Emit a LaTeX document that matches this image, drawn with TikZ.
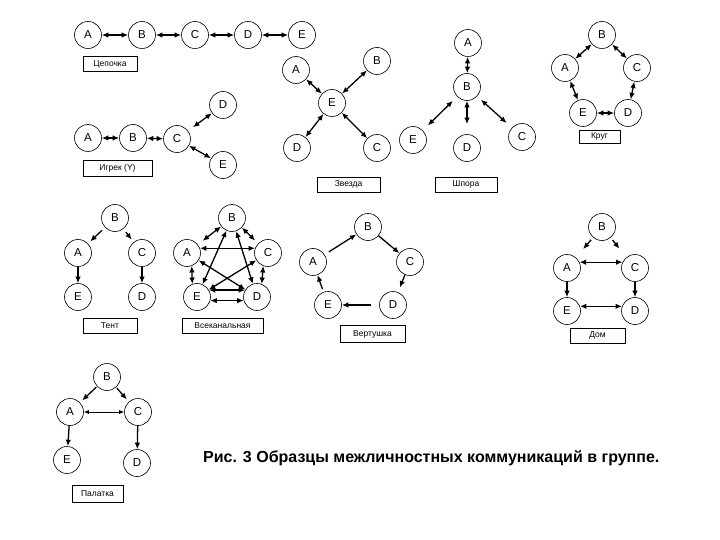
\documentclass[tikz,border=0pt]{standalone}
\usepackage{fontspec}
\setmainfont{Liberation Sans}
\usetikzlibrary{arrows.meta}
\begin{document}
\begin{tikzpicture}[x=1pt,y=-1pt,
 pn/.style={circle,draw,line width=0.6pt,minimum size=27pt,inner sep=0pt,font=\fontsize{11.5}{12}\selectfont},
 lbl/.style={draw,line width=0.6pt,minimum height=15pt,inner sep=0pt,font=\fontsize{8.5}{10}\selectfont},
 tip/.tip={Latex[length=6.5pt,width=5.5pt]},
 bi/.style={tip-tip,line width=1.3pt},
 uni/.style={-tip,line width=1.3pt},
 thinbi/.style={{Latex[length=5pt,width=4pt]}-{Latex[length=5pt,width=4pt]},line width=0.7pt},
]
\fill[white] (0,0) rectangle (720,540);
\useasboundingbox (0,0) rectangle (720,540);

% Цепочка
\node[pn] (cA) at (88,35) {A};
\node[pn] (cB) at (142,35) {B};
\node[pn] (cC) at (195,35) {C};
\node[pn] (cD) at (248,35) {D};
\node[pn] (cE) at (302,35) {E};
\node[lbl,minimum width=54pt] (cL) at (110,64) {Цепочка};
\draw[bi] (cA) -- (cB);
\draw[bi] (cB) -- (cC);
\draw[bi] (cC) -- (cD);
\draw[bi] (cD) -- (cE);

% Игрек
\node[pn] (yA) at (88,138) {A};
\node[pn] (yB) at (133,138) {B};
\node[pn] (yC) at (177,139) {C};
\node[pn] (yD) at (223,105) {D};
\node[pn] (yE) at (223,165) {E};
\node[lbl,minimum width=69pt,minimum height=16pt] (yL) at (117.5,168) {Игрек (Y)};
\draw[bi] (yA) -- (yB);
\draw[bi] (yB) -- (yC);
\draw[bi,shorten <=6pt] (yC) -- (yD);
\draw[bi] (yC) -- (yE);

% Звезда
\node[pn] (sA) at (296,70) {A};
\node[pn] (sB) at (377,61) {B};
\node[pn] (sE) at (332,103) {E};
\node[pn] (sD) at (297,148) {D};
\node[pn] (sC) at (377,148) {C};
\node[lbl,minimum width=63pt] (sL) at (348.5,184.5) {Звезда};
\draw[bi] (sA) -- (sE);
\draw[bi] (sB) -- (sE);
\draw[bi] (sD) -- (sE);
\draw[bi] (sC) -- (sE);

% Шпора
\node[pn] (pA) at (468,43) {A};
\node[pn] (pB) at (467,87) {B};
\node[pn] (pE) at (413,140) {E};
\node[pn] (pD) at (467,148) {D};
\node[pn] (pC) at (522,137) {C};
\node[lbl,minimum width=62pt] (pL) at (466,184.5) {Шпора};
\draw[bi] (pA) -- (pB);
\draw[bi,shorten <=6pt,shorten >=7pt] (pB) -- (pE);
\draw[bi,shorten >=10pt] (pB) -- (pD);
\draw[bi,shorten <=5pt,shorten >=7pt] (pB) -- (pC);

% Круг
\node[pn] (kB) at (602,35) {B};
\node[pn] (kA) at (565,68) {A};
\node[pn] (kC) at (637,68) {C};
\node[pn] (kE) at (583,113) {E};
\node[pn] (kD) at (628,113) {D};
\node[lbl,minimum width=41pt,minimum height=13pt] (kL) at (599.5,136.5) {Круг};
\draw[bi] (kB) -- (kA);
\draw[bi] (kB) -- (kC);
\draw[bi] (kA) -- (kE);
\draw[bi] (kC) -- (kD);
\draw[bi] (kE) -- (kD);

% Тент
\node[pn] (tB) at (115,218) {B};
\node[pn] (tA) at (78,253) {A};
\node[pn] (tC) at (142,253) {C};
\node[pn] (tE) at (78,297) {E};
\node[pn] (tD) at (142,297) {D};
\node[lbl,minimum width=54pt] (tL) at (110,325.5) {Тент};
\draw[uni,shorten <=4pt,shorten >=3pt] (tB) -- (tA);
\draw[uni,shorten <=4pt,shorten >=3pt] (tB) -- (tC);
\draw[uni] (tA) -- (tE);
\draw[uni] (tC) -- (tD);

% Всеканальная
\node[pn] (vB) at (232,218) {B};
\node[pn] (vA) at (187,253) {A};
\node[pn] (vC) at (268,253) {C};
\node[pn] (vE) at (197,297) {E};
\node[pn] (vD) at (257,297) {D};
\node[lbl,minimum width=81pt] (vL) at (222.5,325.5) {Всеканальная};
\draw[bi,shorten <=6pt] (vA) -- (vB);
\draw[bi,shorten >=4pt] (vB) -- (vC);
\draw[bi] (vA.20) -- (vC.160);
\draw[bi] (vA) -- (vD);
\draw[bi] (vE) -- (vB);
\draw[bi] (vD) -- (vB);
\draw[bi] (vE) -- (vC);
\draw[bi] (vA.-70) -- (vE.110);
\draw[bi] (vC.-110) -- (vD.70);
\draw[bi] (vE.30) -- (vD.150);
\draw[bi] (vE.-15) -- (vD.195);

% Вертушка
\node[pn] (wB) at (368,227) {B};
\node[pn] (wA) at (313,262) {A};
\node[pn] (wC) at (410,262) {C};
\node[pn] (wE) at (328,305) {E};
\node[pn] (wD) at (393,305) {D};
\node[lbl,minimum width=65pt,minimum height=17pt] (wL) at (372.5,334) {Вертушка};
\draw[uni,shorten <=5pt] (wA) -- (wB);
\draw[uni] (wB) -- (wC);
\draw[uni,shorten >=5pt] (wC) -- (wD);
\draw[uni,shorten <=8pt] (wD) -- (wE);
\draw[uni,shorten <=3pt] (wE) -- (wA);

% Дом
\node[pn] (dB) at (602,227) {B};
\node[pn] (dA) at (567,268) {A};
\node[pn] (dC) at (635,268) {C};
\node[pn] (dE) at (567,311) {E};
\node[pn] (dD) at (635,311) {D};
\node[lbl,minimum width=55pt] (dL) at (597.5,335.5) {Дом};
\draw[uni,shorten <=3pt,shorten >=11pt] (dB) -- (dA);
\draw[uni,shorten <=3pt,shorten >=11pt] (dB) -- (dC);
\draw[bi] (dA.25) -- (dC.155);
\draw[uni] (dA) -- (dE);
\draw[uni] (dC) -- (dD);
\draw[bi] (dE.20) -- (dD.160);

% Палатка
\node[pn] (qB) at (107,377) {B};
\node[pn] (qA) at (70,412) {A};
\node[pn] (qC) at (138,412) {C};
\node[pn] (qE) at (67,460) {E};
\node[pn] (qD) at (137,463) {D};
\node[lbl,minimum width=51pt,minimum height=17pt] (qL) at (97.5,493.5) {Палатка};
\draw[uni,shorten <=1pt,shorten >=3pt] (qB) -- (qA);
\draw[uni,shorten <=1pt,shorten >=3pt] (qB) -- (qC);
\draw[thinbi] (qA) -- (qC);
\draw[uni] (qA) -- (qE);
\draw[uni] (qC) -- (qD);

% Caption
\node[anchor=west,inner sep=0pt,font=\fontsize{16}{18}\bfseries] (cap) at (203,458) {Рис. 3 Образцы межличностных коммуникаций в группе.};
\end{tikzpicture}
\end{document}
